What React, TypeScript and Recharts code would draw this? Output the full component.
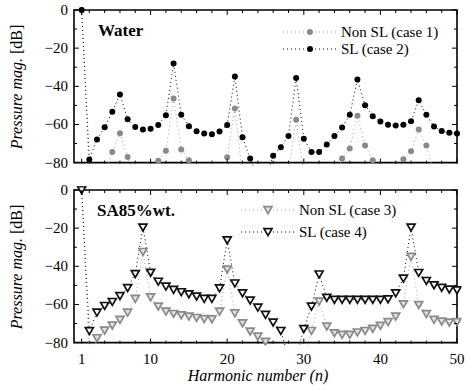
import React from "react";
import {Line, LineChart, ReferenceArea, XAxis, YAxis} from "recharts";

// harmonic index n
const harmonics = [
  1, 2, 3, 4, 5, 6, 7, 8, 9, 10, 11, 12, 13, 14, 15, 16, 17, 18, 19, 20, 21, 22, 23, 24, 25,
  26, 27, 28, 29, 30, 31, 32, 33, 34, 35, 36, 37, 38, 39, 40, 41, 42, 43, 44, 45, 46, 47, 48, 49, 50,
];

// Water, values below -80 fall outside the frame
const waterNonSL = [
  0, -88, -88, -86, -74.4, -64.6, -77.1, -88, -90, -88, -79, -73.8, -46.4, -73.1, -78.7, -88, -90, -90, -88, -77.2,
  -51.6, -87, -90, -92, -92, -90, -88, -86, -57.5, -86, -90, -92, -92, -88, -77.9, -72.6, -55.4, -71, -78.8, -88,
  -90, -88, -78.3, -74.1, -62.6, -71, -86, -90, -90, -90,
];
const waterSL = [
  0, -78.4, -67.9, -61.5, -53.3, -44.3, -57.3, -61.3, -62.7, -62.3, -60.3, -55.2, -28.1, -54.9, -61, -63.5, -64.8,
  -65.1, -63.7, -60.3, -34.8, -66.7, -77.9, -88, -88, -76.4, -71.9, -66, -35.7, -67.5, -74.5, -74.4, -70.5, -66.1,
  -61.6, -54.9, -36.4, -49.9, -55.7, -58.5, -60.1, -60.6, -60.1, -58.3, -47.3, -54.9, -61.1, -63.4, -64.4, -64.8,
];

// SA85%wt.
const saNonSL = [
  0, -88, -77.6, -73.6, -71, -68, -64.2, -57, -32.4, -56.2, -61, -63.7, -64.9, -65.6, -66.3, -67, -67.6, -67.7,
  -63.7, -41.6, -64.6, -69.8, -74.1, -76.8, -79.5, -88, -90, -92, -90, -88, -73.8, -58.4, -71.5, -75, -75.8, -75.8,
  -74.6, -73.8, -72.7, -71.1, -69.2, -66.3, -59.8, -35, -60.2, -65, -68, -68.9, -69.4, -69.2,
];
const saSL = [
  0, -73.9, -64.2, -60.7, -58.6, -55.5, -51.3, -44, -19.6, -43.3, -48, -50.6, -52.3, -53.5, -54.6, -55.8, -57, -57,
  -51.5, -26.3, -48.9, -54.1, -57.9, -61.6, -65.4, -69.4, -73.8, -88, -88, -72.8, -61, -44.2, -56.4, -57.5, -57.5,
  -57.5, -57.5, -57.5, -57.5, -57.5, -57.2, -54.1, -46.4, -19.6, -43.4, -47.6, -49.9, -51.2, -52.1, -52.5,
];

const xTicks = [1, 2, 4, 6, 8, 10, 12, 14, 16, 18, 20, 22, 24, 26, 28, 30, 32, 34, 36, 38, 40, 42, 44, 46, 48, 50];
const xLabels = [1, 10, 20, 30, 40, 50];
const yTicks = [-80, -70, -60, -50, -40, -30, -20, -10, 0];
const yLabels = [-80, -60, -40, -20, 0];

const FONT = "'Liberation Serif', 'DejaVu Serif', serif";
const GRAY = "#8a8a8a";
const W = 469;
const PX = 7.66; // px per harmonic
const PY = 1.92; // px per dB
const BOX_W = 50 * PX;
const Y_AXIS_W = 74;
const PLOT_H = 83.5 * PY;

const Circle = ({cx, cy, color}: any) => <circle cx={cx} cy={cy} r={3} fill={color}/>;

const Tri = ({cx, cy, color, fill}: any) => (
    <polygon
        points={`${cx - 4},${cy - 3.3} ${cx + 4},${cy - 3.3} ${cx},${cy + 3.6}`}
        fill={fill}
        stroke={color}
        strokeWidth={1.7}
        strokeLinejoin="miter"
    />
);

const fmt = (v: number) => (v < 0 ? `\u2212${-v}` : `${v}`);

type Series = { key: string; values: number[]; color: string; lineColor: string; marker: "circle" | "tri"; fill: string };

type PanelProps = {
  top: number;
  height: number;
  boxTop: number;
  series: Series[];
  labels: boolean;
};

const Panel: React.FC<PanelProps> = ({top, height, boxTop, series, labels}) => {
  const mTop = boxTop - top - 2 * PY;
  const mBottom = height - mTop - PLOT_H;
  // frame edges in chart coords
  const frameTop = mTop + 2 * PY;
  const frameBottom = mTop + 82 * PY;
  const data = harmonics.map((n, i) => {
    const row: any = {n};
    series.forEach(s => (row[s.key] = s.values[i]));
    return row;
  });

  const xTick = (props: any) => {
    const {x, payload} = props;
    const major = xLabels.includes(payload.value);
    const len = major ? 5 : 3;
    return (
        <g key={`xt-${payload.value}`}>
          <line x1={x} x2={x} y1={frameBottom} y2={frameBottom - len} stroke="#000" strokeWidth={1}/>
          <line x1={x} x2={x} y1={frameTop} y2={frameTop + len} stroke="#000" strokeWidth={1}/>
          {labels && major && (
              <text x={x} y={frameBottom + 20.5} textAnchor="middle" fontSize={15} fontFamily={FONT} fill="#000">
                {payload.value}
              </text>
          )}
        </g>
    );
  };

  const yTick = (props: any) => {
    const {y, payload} = props;
    const major = yLabels.includes(payload.value);
    const len = major ? 5 : 3;
    const left = Y_AXIS_W;
    const right = left + BOX_W;
    return (
        <g key={`yt-${payload.value}`}>
          <line x1={left} x2={left + len} y1={y} y2={y} stroke="#000" strokeWidth={1}/>
          <line x1={right} x2={right - len} y1={y} y2={y} stroke="#000" strokeWidth={1}/>
          {major && (
              <text x={left - 6} y={y + 5} textAnchor="end" fontSize={15} fontFamily={FONT} fill="#000">
                {fmt(payload.value)}
              </text>
          )}
        </g>
    );
  };

  return (
      <div style={{position: "absolute", left: 0, top}}>
        <LineChart
            width={W}
            height={height}
            data={data}
            margin={{top: mTop, right: W - Y_AXIS_W - 50.6 * PX, bottom: mBottom, left: 0}}
        >
          <XAxis dataKey="n" type="number" domain={[0, 50.6]} allowDataOverflow ticks={xTicks} interval={0}
                 height={1} tickSize={0} tickMargin={0} tickLine={false} axisLine={false} tick={xTick}/>
          <YAxis type="number" domain={[-81.5, 2]} allowDataOverflow ticks={yTicks} interval={0}
                 width={Y_AXIS_W} tickSize={0} tickMargin={0} tickLine={false} axisLine={false} tick={yTick}/>
          <ReferenceArea x1={0} x2={50} y1={-80} y2={0} fill="none" stroke="#000" strokeWidth={1.6}
                         ifOverflow="visible"/>
          {series.map(s => (
              <Line
                  key={s.key}
                  dataKey={s.key}
                  type="linear"
                  stroke={s.lineColor}
                  strokeWidth={1}
                  strokeDasharray="1 3"
                  isAnimationActive={false}
                  activeDot={false}
                  dot={(p: any) =>
                      s.marker === "circle"
                          ? <Circle key={`${s.key}-${p.index}`} cx={p.cx} cy={p.cy} color={s.color}/>
                          : <Tri key={`${s.key}-${p.index}`} cx={p.cx} cy={p.cy} color={s.color} fill={s.fill}/>
                  }
              />
          ))}
        </LineChart>
      </div>
  );
};

const LegendRow = ({x, y, text, color, lineColor, marker, fill, w}: any) => (
    <g>
      <line x1={x} x2={x + w} y1={y} y2={y} stroke={lineColor} strokeWidth={1} strokeDasharray="1 3"/>
      {marker === "circle"
          ? <Circle cx={x + w / 2} cy={y} color={color}/>
          : <Tri cx={x + w / 2} cy={y} color={color} fill={fill}/>}
      <text x={x + w + 4} y={y + 5} fontSize={15} fontFamily={FONT} fill="#000">{text}</text>
    </g>
);

const waterSeries: Series[] = [
  {key: "nonsl", values: waterNonSL, color: GRAY, lineColor: "#9a9a9a", marker: "circle", fill: GRAY},
  {key: "sl", values: waterSL, color: "#000", lineColor: "#000", marker: "circle", fill: "#000"},
];
const saSeries: Series[] = [
  {key: "nonsl", values: saNonSL, color: GRAY, lineColor: "#9a9a9a", marker: "tri", fill: "#e2e2e2"},
  {key: "sl", values: saSL, color: "#111", lineColor: "#000", marker: "tri", fill: "#fafafa"},
];

export default function App() {
  return (
      <div style={{position: "absolute", left: 0, top: 0, width: W, height: 391, background: "#fff"}}>
        <Panel top={0} height={180} boxTop={10} series={waterSeries} labels={false}/>
        <Panel top={180} height={211} boxTop={190} series={saSeries} labels={true}/>
        <svg width={W} height={391} style={{position: "absolute", left: 0, top: 0, pointerEvents: "none"}}>
          <text x={98} y={36} fontSize={17} fontWeight="bold" fontFamily={FONT}>Water</text>
          <text x={97} y={216} fontSize={17} fontWeight="bold" fontFamily={FONT}>SA85%wt.</text>
          <LegendRow x={283} y={32} w={54} text="Non SL (case 1)" color={GRAY} lineColor="#9a9a9a" marker="circle"/>
          <LegendRow x={283} y={49} w={54} text="SL (case 2)" color="#000" lineColor="#000" marker="circle"/>
          <LegendRow x={241} y={210} w={54} text="Non SL (case 3)" color={GRAY} lineColor="#9a9a9a" marker="tri"
                     fill="#e2e2e2"/>
          <LegendRow x={241} y={232} w={54} text="SL (case 4)" color="#111" lineColor="#000" marker="tri"
                     fill="#fafafa"/>
          <text transform="translate(22,87) rotate(-90)" textAnchor="middle" fontSize={16} fontFamily={FONT}>
            <tspan fontStyle="italic">Pressure mag.</tspan>
            <tspan> [dB]</tspan>
          </text>
          <text transform="translate(22,267) rotate(-90)" textAnchor="middle" fontSize={16} fontFamily={FONT}>
            <tspan fontStyle="italic">Pressure mag.</tspan>
            <tspan> [dB]</tspan>
          </text>
          <text x={258} y={381} textAnchor="middle" fontSize={16} fontStyle="italic" fontFamily={FONT}>
            Harmonic number (n)
          </text>
        </svg>
      </div>
  );
}
